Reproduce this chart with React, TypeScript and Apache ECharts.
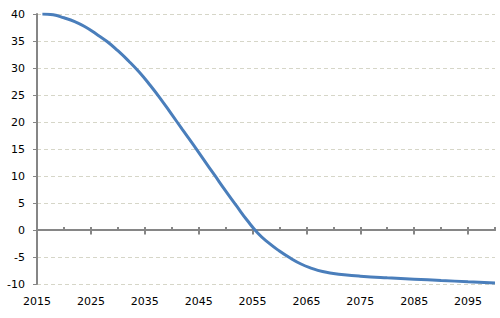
import { useEffect, useRef } from 'react';
import * as echarts from 'echarts';

const years = [2016, 2018, 2020, 2022, 2024, 2026, 2028, 2030, 2032, 2034, 2036, 2038, 2040, 2042, 2044, 2046, 2048, 2050, 2052, 2054, 2056, 2058, 2060, 2062, 2064, 2066, 2068, 2070, 2072, 2075, 2080, 2085, 2090, 2095, 2100];
const values = [40.0, 39.85, 39.3, 38.6, 37.6, 36.3, 34.9, 33.2, 31.3, 29.2, 26.8, 24.2, 21.4, 18.6, 15.8, 12.95, 10.1, 7.25, 4.5, 1.8, -0.6, -2.4, -3.9, -5.2, -6.3, -7.1, -7.7, -8.05, -8.3, -8.55, -8.85, -9.1, -9.35, -9.58, -9.8];
const labelYears = [2015, 2025, 2035, 2045, 2055, 2065, 2075, 2085, 2095];
const minorTickYears = [2015, 2020, 2025, 2030, 2035, 2040, 2045, 2050, 2055, 2060, 2065, 2070, 2075, 2080, 2085, 2090, 2095, 2100];
const majorTickYears = [2015, 2025, 2035, 2045, 2055, 2065, 2075, 2085, 2095];

const AXIS = '#868686';
const FONT = 'DejaVu Sans';

export default function App() {
  const ref = useRef<HTMLDivElement>(null);
  useEffect(() => {
    const chart = echarts.init(ref.current!, null, { renderer: 'svg' });
    chart.setOption({
      animation: false,
      backgroundColor: '#fff',
      grid: { left: 37, right: 5, top: 14, bottom: 34, containLabel: false },
      xAxis: [
        {
          type: 'value', min: 2015, max: 2100, position: 'bottom',
          axisLine: { show: false, onZero: false },
          axisTick: { show: false },
          splitLine: { show: false },
          axisLabel: {
            customValues: labelYears, margin: 12, color: '#000',
            fontFamily: FONT, fontSize: 11, formatter: (v: number) => String(v),
          },
        },
        {
          type: 'value', min: 2015, max: 2100, position: 'bottom',
          axisLine: { show: true, onZero: true, onZeroAxisIndex: 0, lineStyle: { color: AXIS, width: 2 } },
          axisTick: { show: true, inside: true, length: 3, customValues: minorTickYears, lineStyle: { color: AXIS, width: 2 } },
          axisLabel: { show: false },
          splitLine: { show: false },
        },
        {
          type: 'value', min: 2015, max: 2100, position: 'bottom',
          axisLine: { show: true, onZero: true, onZeroAxisIndex: 1, lineStyle: { color: AXIS, width: 2 } },
          axisTick: { show: true, inside: false, length: 4.5, customValues: majorTickYears, lineStyle: { color: AXIS, width: 2 } },
          axisLabel: { show: false },
          splitLine: { show: false },
        },
      ],
      yAxis: [
        {
          type: 'value', min: -10, max: 40, interval: 5, position: 'left',
          axisLine: { show: true, onZero: false, lineStyle: { color: AXIS, width: 2 } },
          axisTick: { show: true, length: 4, lineStyle: { color: AXIS, width: 1 } },
          axisLabel: { margin: 12, color: '#000', fontFamily: FONT, fontSize: 11 },
          splitLine: { show: true, lineStyle: { color: '#d6d6c8', type: [4, 3], width: 1 } },
        },
        {
          type: 'value', min: -10, max: 40, interval: 5, position: 'left',
          axisLine: { show: false, onZero: false },
          axisTick: { show: false },
          axisLabel: { show: false },
          splitLine: { show: false },
        },
      ],
      series: [
        {
          type: 'line',
          xAxisIndex: 0,
          yAxisIndex: 0,
          data: years.map((y, i) => [y, values[i]]),
          smooth: true,
          showSymbol: false,
          lineStyle: { color: '#4a7ebb', width: 3 },
        },
      ],
    });
    return () => chart.dispose();
  }, []);
  return <div ref={ref} style={{ position: 'absolute', left: 0, top: 0, width: 500, height: 318, background: '#fff' }} />;
}
